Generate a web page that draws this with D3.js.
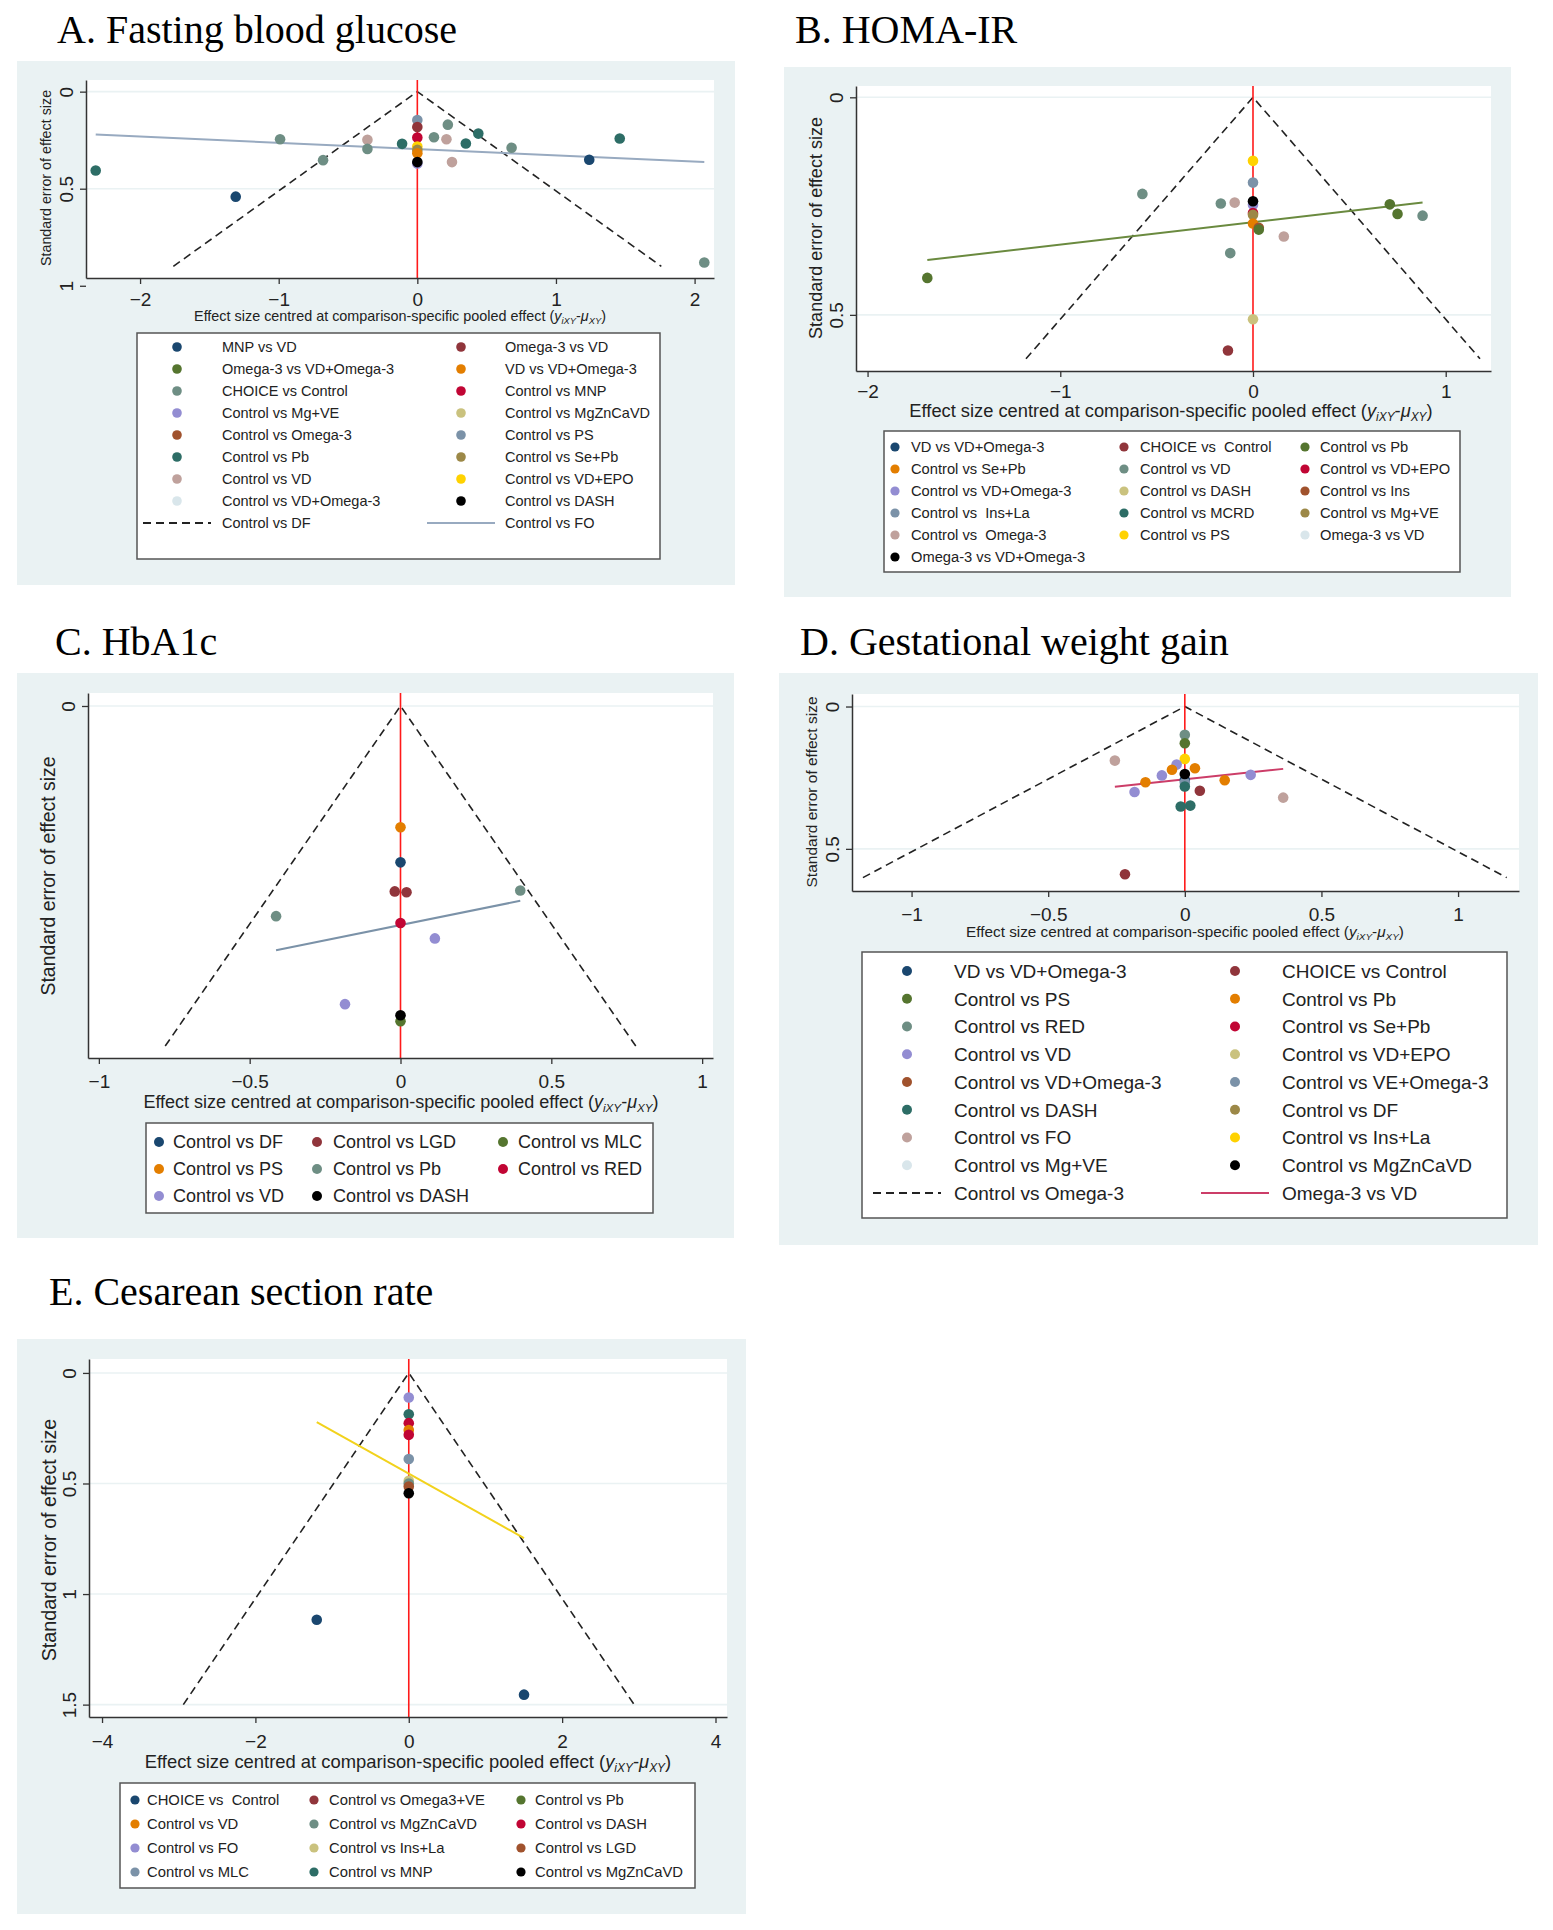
<!DOCTYPE html>
<html>
<head>
<meta charset="utf-8">
<script src="https://cdn.jsdelivr.net/npm/d3@7"></script>
<style>
  body { margin: 0; background: #fff; }
  text { white-space: pre; }
</style>
</head>
<body>
<svg id="fig" width="1553" height="1930"></svg>
<script>
// stata s2color order, last marker series is always drawn black
var palette = ["#1a476f", "#90353b", "#55752f", "#e37e00", "#6e8e84", "#c10534", "#938dd2",
               "#cac27e", "#a0522d", "#7b92a8", "#2d6d66", "#9c8847", "#bfa19c", "#ffd200", "#d9e6eb"];

// A. Fasting blood glucose
var aLabels = ["MNP vs VD", "Omega-3 vs VD", "Omega-3 vs VD+Omega-3", "VD vs VD+Omega-3",
               "CHOICE vs Control", "Control vs MNP", "Control vs Mg+VE", "Control vs MgZnCaVD",
               "Control vs Omega-3", "Control vs PS", "Control vs Pb", "Control vs Se+Pb",
               "Control vs VD", "Control vs VD+EPO", "Control vs VD+Omega-3", "Control vs DASH"];
var aLineLabels = ["Control vs DF", "Control vs FO"];
// [effect, se, series]
var aPoints = [[-2.32, 0.406, 10], [-1.31, 0.541, 0], [-0.99, 0.245, 4], [-0.68, 0.353, 4],
               [-0.36, 0.248, 12], [-0.36, 0.295, 4], [-0.11, 0.269, 10], [0, 0.146, 9],
               [0, 0.182, 1], [0, 0.236, 5], [0, 0.283, 13], [0, 0.30, 11], [0, 0.317, 3],
               [0, 0.37, 6], [0, 0.363, 15], [0.12, 0.235, 4], [0.22, 0.170, 4], [0.21, 0.245, 12],
               [0.25, 0.363, 12], [0.35, 0.267, 10], [0.44, 0.216, 10], [0.68, 0.289, 4],
               [1.24, 0.351, 0], [1.46, 0.241, 10], [2.07, 0.880, 4]];
var aFunnel = [[-1.76, 0.9], [0, 0], [1.76, 0.9]];
var aFit = [[-2.32, 0.221], [2.07, 0.363]];
var aXTicks = [-2, -1, 0, 1, 2];
var aYTicks = [0, 0.5, 1];

// B. HOMA-IR
var bLabels = ["VD vs VD+Omega-3", "CHOICE vs  Control", "Control vs Pb", "Control vs Se+Pb",
               "Control vs VD", "Control vs VD+EPO", "Control vs VD+Omega-3", "Control vs DASH",
               "Control vs Ins", "Control vs  Ins+La", "Control vs MCRD", "Control vs Mg+VE",
               "Control vs  Omega-3", "Control vs PS", "Omega-3 vs VD", "Omega-3 vs VD+Omega-3"];
var bPoints = [[-1.69, 0.415, 2], [-0.574, 0.222, 4], [-0.167, 0.244, 4], [-0.095, 0.242, 12],
               [-0.118, 0.358, 4], [0, 0.146, 13], [0, 0.196, 9], [0, 0.247, 6], [0, 0.239, 15],
               [0, 0.266, 5], [0, 0.27, 11], [0, 0.29, 3], [0.03, 0.30, 8], [0.03, 0.304, 2],
               [0.16, 0.32, 12], [0, 0.51, 7], [-0.13, 0.582, 1], [0.71, 0.246, 2],
               [0.75, 0.268, 2], [0.88, 0.272, 4]];
var bFunnel = [[-1.178, 0.601], [0, 0], [1.178, 0.601]];
var bFit = [[-1.69, 0.374], [0.88, 0.242]];
var bXTicks = [-2, -1, 0, 1];
var bYTicks = [0, 0.5];

// C. HbA1c
var cLabels = ["Control vs DF", "Control vs LGD", "Control vs MLC", "Control vs PS",
               "Control vs Pb", "Control vs RED", "Control vs VD", "Control vs DASH"];
var cPoints = [[0, 0.142, 3], [0, 0.183, 0], [-0.019, 0.217, 1], [0.02, 0.218, 1],
               [0.397, 0.216, 4], [-0.4125, 0.246, 4], [0, 0.254, 5], [0.114, 0.272, 6],
               [-0.184, 0.349, 6], [0, 0.369, 2], [0, 0.362, 7]];
var cFunnel = [[-0.78, 0.398], [0, 0], [0.78, 0.398]];
var cFit = [[-0.4125, 0.286], [0.397, 0.228]];
var cXTicks = [-1, -0.5, 0, 0.5, 1];
var cYTicks = [0];

// D. Gestational weight gain
var dLabels = ["VD vs VD+Omega-3", "CHOICE vs Control", "Control vs PS", "Control vs Pb",
               "Control vs RED", "Control vs Se+Pb", "Control vs VD", "Control vs VD+EPO",
               "Control vs VD+Omega-3", "Control vs VE+Omega-3", "Control vs DASH", "Control vs DF",
               "Control vs FO", "Control vs Ins+La", "Control vs Mg+VE", "Control vs MgZnCaVD"];
var dLineLabels = ["Control vs Omega-3", "Omega-3 vs VD"];
var dPoints = [[0, 0.0995, 4], [0, 0.129, 2], [0, 0.184, 13], [-0.256, 0.19, 12], [-0.03, 0.204, 6],
               [-0.047, 0.222, 3], [0.037, 0.217, 3], [-0.084, 0.242, 6], [0, 0.258, 0],
               [0, 0.267, 9], [-0.144, 0.266, 3], [0.146, 0.259, 3], [0.241, 0.24, 6],
               [0, 0.281, 10], [0.055, 0.296, 1], [-0.184, 0.30, 6], [0.36, 0.32, 12],
               [-0.015, 0.351, 10], [0.02, 0.348, 10], [-0.219, 0.589, 1], [0, 0.237, 15]];
var dFunnel = [[-1.178, 0.601], [0, 0], [1.178, 0.601]];
var dFit = [[-0.256, 0.282], [0.36, 0.219]];
var dXTicks = [-1, -0.5, 0, 0.5, 1];
var dYTicks = [0, 0.5];

// E. Cesarean section rate
var eLabels = ["CHOICE vs  Control", "Control vs Omega3+VE", "Control vs Pb", "Control vs VD",
               "Control vs MgZnCaVD", "Control vs DASH", "Control vs FO", "Control vs Ins+La",
               "Control vs LGD", "Control vs MLC", "Control vs MNP", "Control vs MgZnCaVD"];
var ePoints = [[0, 0.111, 6], [0, 0.187, 10], [0, 0.227, 5], [0, 0.258, 3], [0, 0.28, 5],
               [0, 0.389, 9], [0, 0.488, 7], [0, 0.50, 4], [0, 0.514, 8], [0, 0.544, 11],
               [-1.2, 1.116, 0], [1.503, 1.455, 0]];
var eFunnel = [[-2.94, 1.5], [0, 0], [2.94, 1.5]];
var eFit = [[-1.2, 0.223], [1.503, 0.747]];
var eXTicks = [-4, -2, 0, 2, 4];
var eYTicks = [0, 0.5, 1, 1.5];

var SANS = "'Liberation Sans', Arial, sans-serif";
var SERIF = "'Liberation Serif', 'Times New Roman', serif";
var BG = "#eaf2f3";

function fmt (d) {
  return d < 0 ? "\u2212" + Math.abs(d) : String(d);
}

function color_of (i, n) {
  return i === n - 1 ? "#000" : palette[i];
}

// x axis title with the little subscript bit at the end
function x_title (sel, fs) {
  sel.append("tspan").text("Effect size centred at comparison-specific pooled effect (");
  sel.append("tspan").attr("font-style", "italic").text("y");
  sel.append("tspan").attr("font-style", "italic").attr("font-size", fs * 0.65).attr("dy", fs * 0.22).text("iXY");
  sel.append("tspan").attr("dy", -fs * 0.22).text("-");
  sel.append("tspan").attr("font-style", "italic").text("\u03bc");
  sel.append("tspan").attr("font-style", "italic").attr("font-size", fs * 0.65).attr("dy", fs * 0.22).text("XY");
  sel.append("tspan").attr("dy", -fs * 0.22).text(")");
}

function draw_panel (svg, p) {
  var g = svg.append("g");
  var n = p.labels.length;

  g.append("rect")
   .attr("x", p.bg[0]).attr("y", p.bg[1])
   .attr("width", p.bg[2] - p.bg[0]).attr("height", p.bg[3] - p.bg[1])
   .attr("fill", BG);

  g.append("text")
   .attr("x", p.title[0]).attr("y", p.title[1])
   .attr("font-family", SERIF).attr("font-size", 40).attr("fill", "#000")
   .text(p.titleText);

  var x = d3.scaleLinear().domain(p.xDomain).range([p.plot[0], p.plot[2]]);
  var y = d3.scaleLinear().domain(p.yDomain).range([p.plot[1], p.plot[3]]);

  g.append("rect")
   .attr("x", p.plot[0]).attr("y", p.plot[1])
   .attr("width", p.plot[2] - p.plot[0]).attr("height", p.plot[3] - p.plot[1])
   .attr("fill", "#fff");

  var inside = p.yTicks.filter(function (d) { return d >= p.yDomain[0] && d <= p.yDomain[1]; });
  g.selectAll("line.grid").data(inside).enter().append("line")
   .attr("class", "grid")
   .attr("x1", p.plot[0]).attr("x2", p.plot[2])
   .attr("y1", function (d) { return y(d); }).attr("y2", function (d) { return y(d); })
   .attr("stroke", BG).attr("stroke-width", 1.6);

  var line = d3.line()
    .x(function (d) { return x(d[0]); })
    .y(function (d) { return y(d[1]); });

  g.append("path").attr("d", line(p.funnel))
   .attr("fill", "none").attr("stroke", "#222").attr("stroke-width", 1.6)
   .attr("stroke-dasharray", "8,5");

  g.append("line")
   .attr("x1", x(0)).attr("x2", x(0)).attr("y1", p.plot[1]).attr("y2", p.plot[3])
   .attr("stroke", "#ff1a1a").attr("stroke-width", 1.6);

  g.append("path").attr("d", line(p.fit))
   .attr("fill", "none").attr("stroke", p.fitColor).attr("stroke-width", 2);

  g.selectAll("circle.pt").data(p.points).enter().append("circle")
   .attr("class", "pt")
   .attr("cx", function (d) { return x(d[0]); })
   .attr("cy", function (d) { return y(d[1]); })
   .attr("r", 5.3)
   .attr("fill", function (d) { return color_of(d[2], n); });

  // axes
  var xa = g.append("g").attr("transform", "translate(0," + p.plot[3] + ")")
    .call(d3.axisBottom(x).tickValues(p.xTicks).tickFormat(fmt).tickSize(6).tickSizeOuter(0));
  xa.select(".domain").attr("stroke", "#333").attr("stroke-width", 1.5);
  xa.selectAll(".tick line").attr("stroke", "#333").attr("stroke-width", 1.3);
  xa.selectAll("text")
    .attr("y", p.xLabY).attr("dy", 0)
    .attr("font-family", SANS).attr("font-size", 19).attr("fill", "#222");

  var ya = g.append("g").attr("transform", "translate(" + p.plot[0] + ",0)")
    .call(d3.axisLeft(y).tickValues(p.yTicks).tickFormat(fmt).tickSize(6).tickSizeOuter(0));
  ya.select(".domain").attr("stroke", "#333").attr("stroke-width", 1.5);
  ya.selectAll(".tick line").attr("stroke", "#333").attr("stroke-width", 1.3);
  ya.selectAll("text")
    .attr("x", 0).attr("dy", 0).attr("text-anchor", "middle")
    .attr("transform", "translate(-13,0) rotate(-90)")
    .attr("font-family", SANS).attr("font-size", 19).attr("fill", "#222");

  var xt = g.append("text")
   .attr("x", p.xTitle[0]).attr("y", p.xTitle[1])
   .attr("text-anchor", "middle")
   .attr("font-family", SANS).attr("font-size", p.xTitle[2]).attr("fill", "#222");
  x_title(xt, p.xTitle[2]);

  g.append("text")
   .attr("transform", "translate(" + p.yTitle[0] + "," + p.yTitle[1] + ") rotate(-90)")
   .attr("text-anchor", "middle")
   .attr("font-family", SANS).attr("font-size", p.yTitle[2]).attr("fill", "#222")
   .text("Standard error of effect size");

  // legend
  var L = p.legend;
  g.append("rect")
   .attr("x", L.box[0]).attr("y", L.box[1])
   .attr("width", L.box[2] - L.box[0]).attr("height", L.box[3] - L.box[1])
   .attr("fill", "#fff").attr("stroke", "#555").attr("stroke-width", 1.5);

  p.labels.forEach(function (lab, i) {
    var col = i % L.ncol;
    var cy = L.row0 + Math.floor(i / L.ncol) * L.step;
    g.append("circle").attr("cx", L.mx[col]).attr("cy", cy).attr("r", L.r)
     .attr("fill", color_of(i, n));
    g.append("text").attr("x", L.tx[col]).attr("y", cy).attr("dy", "0.36em")
     .attr("font-family", SANS).attr("font-size", L.fs).attr("fill", "#222")
     .text(lab);
  });

  (p.lineLabels || []).forEach(function (lab, j) {
    var i = n + j;
    var col = i % L.ncol;
    var cy = L.row0 + Math.floor(i / L.ncol) * L.step;
    var ln = g.append("line")
     .attr("x1", L.mx[col] - 34).attr("x2", L.mx[col] + 34)
     .attr("y1", cy).attr("y2", cy)
     .attr("stroke-width", j === 0 ? 2 : 2.2);
    if (j === 0) {
      ln.attr("stroke", "#222").attr("stroke-dasharray", "8,5");
    } else {
      ln.attr("stroke", p.fitColor);
    }
    g.append("text").attr("x", L.tx[col]).attr("y", cy).attr("dy", "0.36em")
     .attr("font-family", SANS).attr("font-size", L.fs).attr("fill", "#222")
     .text(lab);
  });
}

var svg = d3.select("#fig");

draw_panel(svg, {
  titleText: "A. Fasting blood glucose", title: [57, 43],
  bg: [17, 61, 735, 585], plot: [86, 80, 714, 278],
  xDomain: [-2.39, 2.14], yDomain: [-0.06, 0.96],
  xTicks: aXTicks, yTicks: aYTicks, xLabY: 28,
  xTitle: [400, 321, 14.4], yTitle: [51, 178, 14.3],
  labels: aLabels, lineLabels: aLineLabels, points: aPoints,
  funnel: aFunnel, fit: aFit, fitColor: "#98aac0",
  legend: { box: [137, 333, 660, 559], ncol: 2, mx: [177, 461], tx: [222, 505],
            row0: 347, step: 22, fs: 14.5, r: 4.8 }
});

draw_panel(svg, {
  titleText: "B. HOMA-IR", title: [795, 43],
  bg: [784, 67, 1511, 597], plot: [856, 86, 1491, 371],
  xDomain: [-2.06, 1.235], yDomain: [-0.026, 0.629],
  xTicks: bXTicks, yTicks: bYTicks, xLabY: 27,
  xTitle: [1171, 417, 18.3], yTitle: [822, 228, 18],
  labels: bLabels, points: bPoints,
  funnel: bFunnel, fit: bFit, fitColor: "#6a8a3f",
  legend: { box: [884, 431, 1460, 572], ncol: 3, mx: [895, 1124, 1305], tx: [911, 1140, 1320],
            row0: 447, step: 22, fs: 14.7, r: 4.6 }
});

draw_panel(svg, {
  titleText: "C. HbA1c", title: [55, 655],
  bg: [17, 673, 734, 1238], plot: [88, 693, 713, 1058],
  xDomain: [-1.036, 1.036], yDomain: [-0.0152, 0.412],
  xTicks: cXTicks, yTicks: cYTicks, xLabY: 30,
  xTitle: [401, 1108, 18], yTitle: [55, 876, 19.4],
  labels: cLabels, points: cPoints,
  funnel: cFunnel, fit: cFit, fitColor: "#7b92a8",
  legend: { box: [146, 1123, 653, 1213], ncol: 3, mx: [159, 317, 503], tx: [173, 333, 518],
            row0: 1142, step: 27, fs: 18, r: 5 }
});

draw_panel(svg, {
  titleText: "D. Gestational weight gain", title: [800, 655],
  bg: [779, 673, 1538, 1245], plot: [852, 694, 1519, 891],
  xDomain: [-1.218, 1.223], yDomain: [-0.044, 0.648],
  xTicks: dXTicks, yTicks: dYTicks, xLabY: 30,
  xTitle: [1185, 937, 15.3], yTitle: [817, 792, 15.5],
  labels: dLabels, lineLabels: dLineLabels, points: dPoints,
  funnel: dFunnel, fit: dFit, fitColor: "#cc3d68",
  legend: { box: [862, 952, 1507, 1218], ncol: 2, mx: [907, 1235], tx: [954, 1282],
            row0: 971, step: 27.75, fs: 19, r: 5 }
});

draw_panel(svg, {
  titleText: "E. Cesarean section rate", title: [49, 1305],
  bg: [17, 1339, 746, 1914], plot: [89, 1359, 727, 1717],
  xDomain: [-4.17, 4.15], yDomain: [-0.063, 1.556],
  xTicks: eXTicks, yTicks: eYTicks, xLabY: 31,
  xTitle: [408, 1768, 18.4], yTitle: [56, 1540, 19.7],
  labels: eLabels, points: ePoints,
  funnel: eFunnel, fit: eFit, fitColor: "#f2d21c",
  legend: { box: [120, 1783, 695, 1888], ncol: 3, mx: [135, 314, 521], tx: [147, 329, 535],
            row0: 1800, step: 24, fs: 14.8, r: 4.6 }
});
</script>
</body>
</html>
